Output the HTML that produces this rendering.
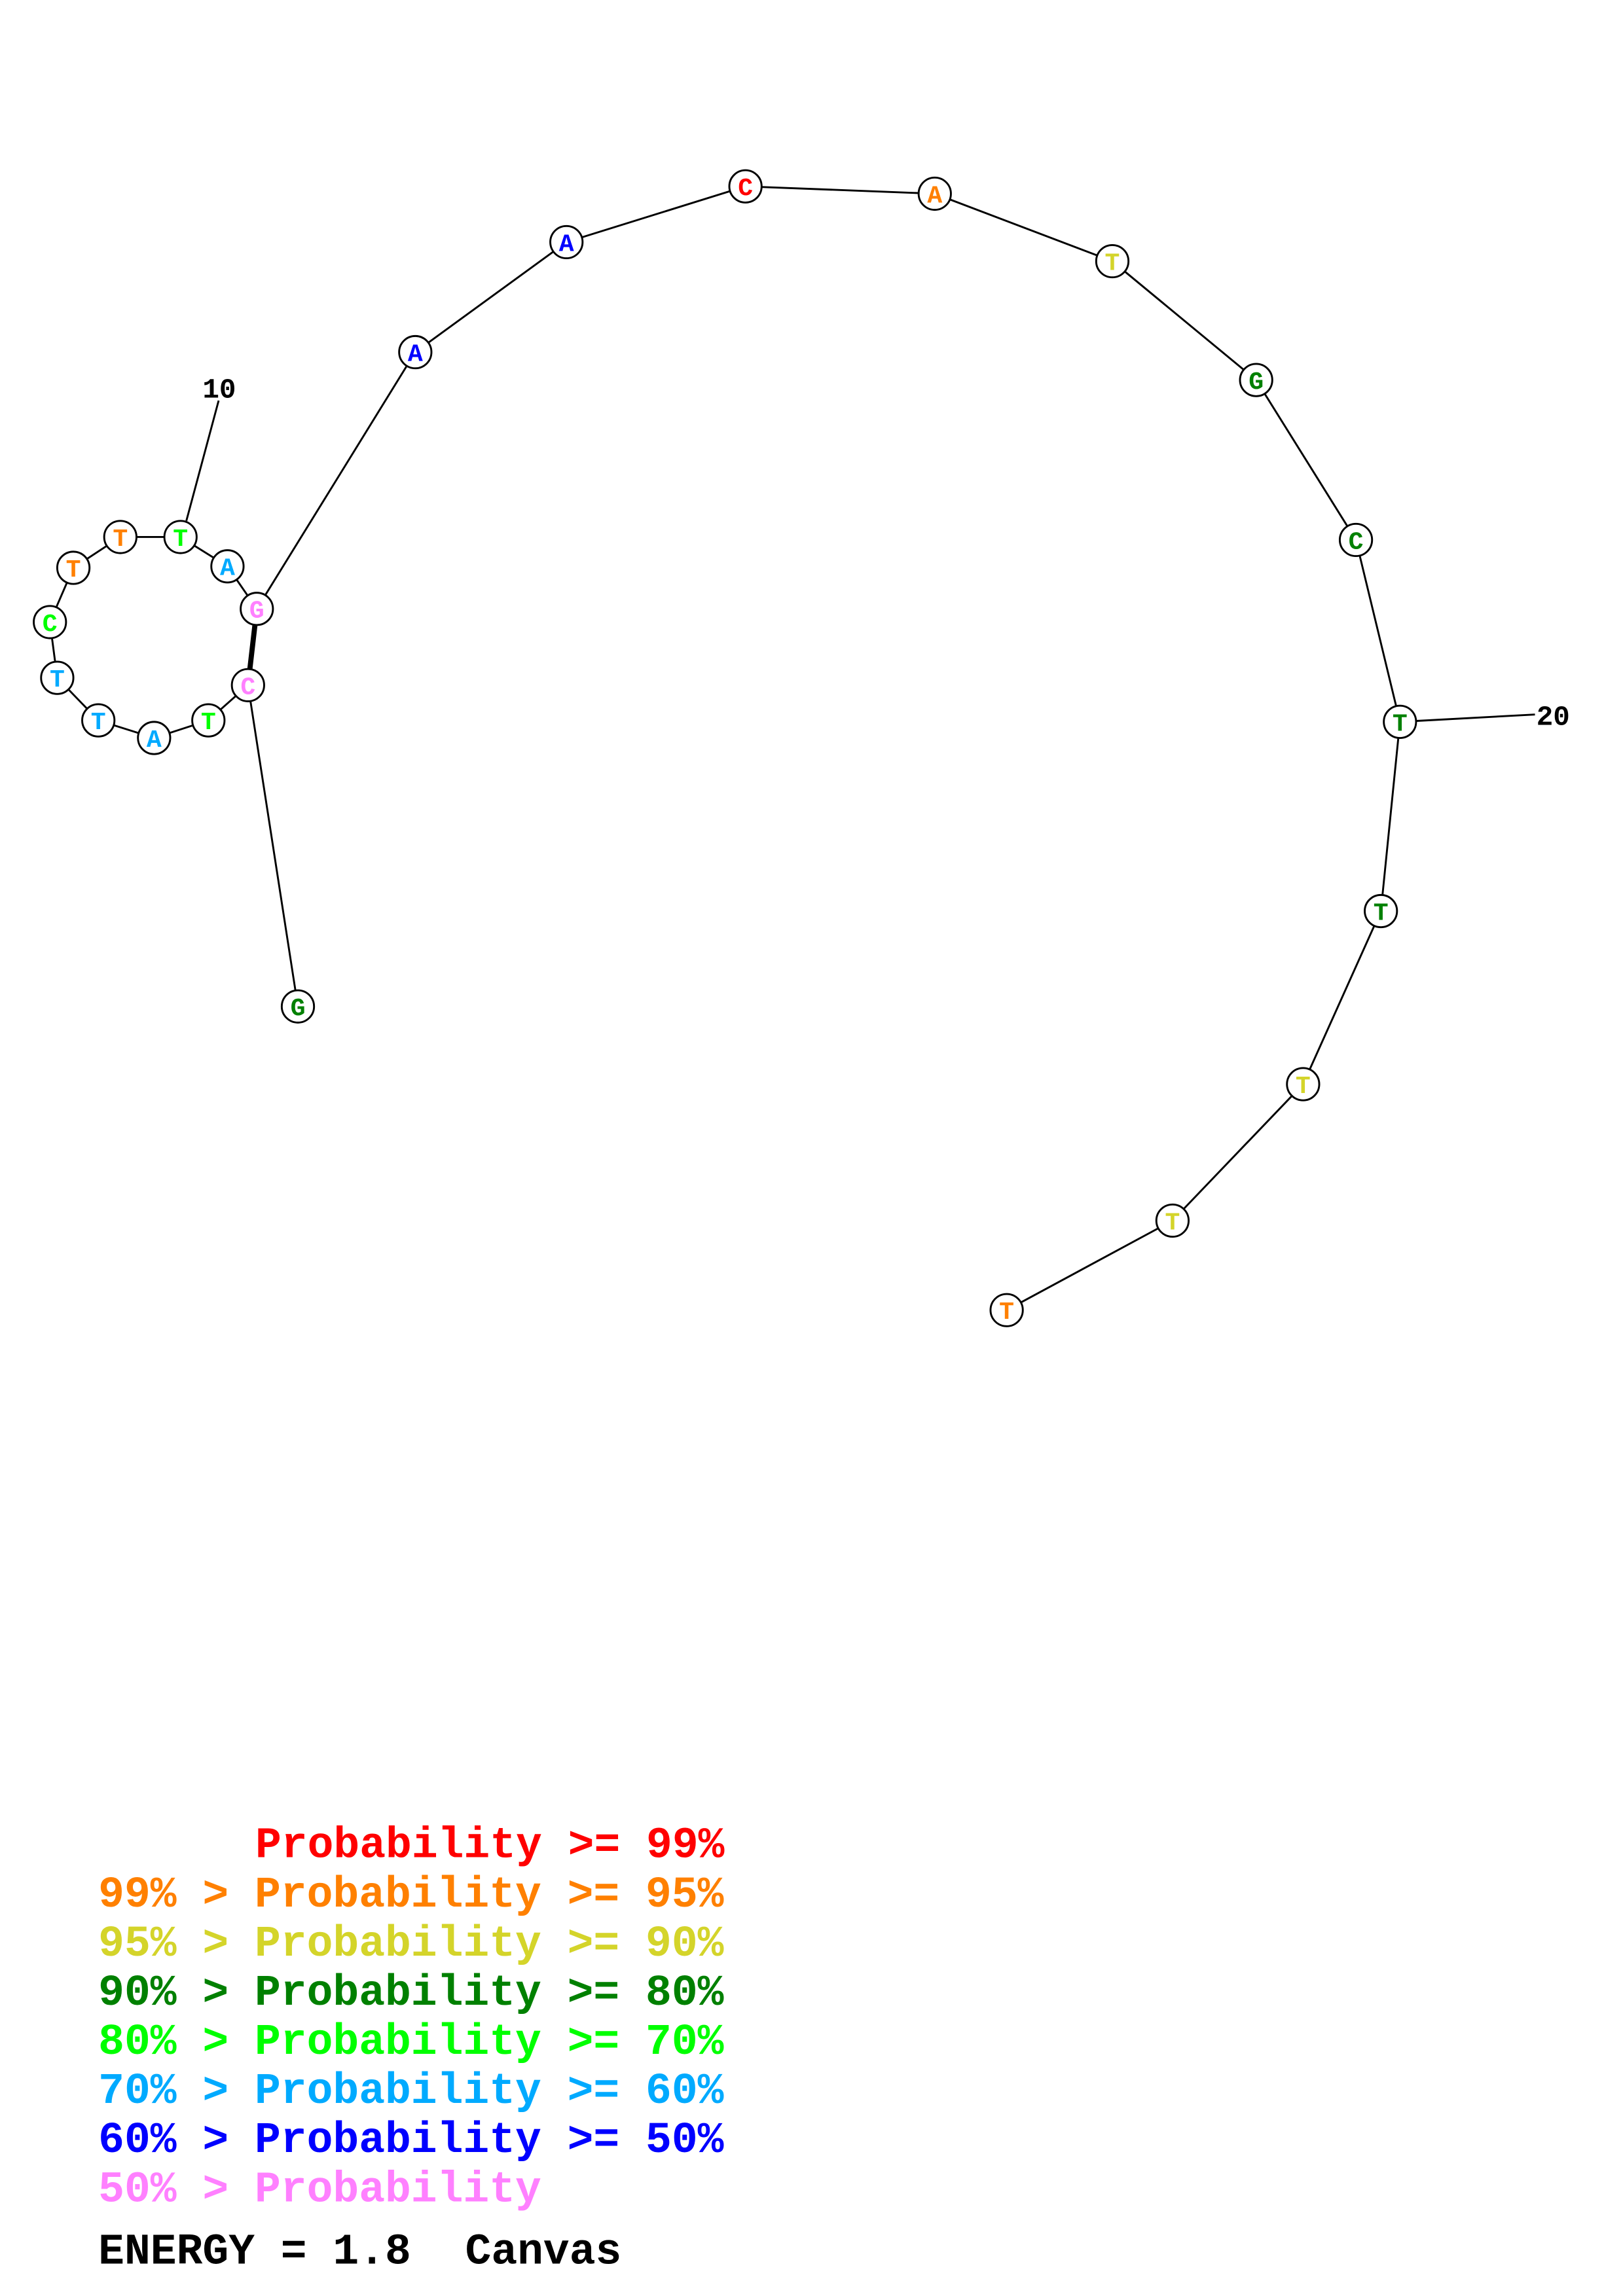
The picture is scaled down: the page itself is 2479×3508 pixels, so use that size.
<!DOCTYPE html>
<html><head><meta charset="utf-8"><style>html,body{margin:0;padding:0;background:#fff}svg{display:block}</style></head>
<body>
<svg width="2479" height="3508" viewBox="0 0 1106 1565" xmlns="http://www.w3.org/2000/svg">
<rect width="1106" height="1565" fill="#fff"/>
<g stroke="#000" stroke-width="1.3" fill="none">
<polyline points="203,686 169,467 142,491 105,503 67,491 39,462 34,424 50,387 82,366 123,366 155,386 175,415 283,240 386,165 508,127 637,132 758,178 856,259 924,368 954,492 941,621 888,739 799,832 686,893"/>
<line x1="175" y1="415" x2="169" y2="467" stroke-width="3.5"/>
<line x1="149" y1="273" x2="127" y2="355"/>
<line x1="954" y1="492" x2="1046" y2="487"/>
</g>
<g font-family="Liberation Mono, monospace" font-weight="bold" font-size="19" fill="#000">
<text x="138" y="271">10</text>
<text x="1047" y="494">20</text>
</g>
<g stroke="#000" stroke-width="1.3" fill="#fff">
<circle cx="203" cy="686" r="11"/><circle cx="169" cy="467" r="11"/><circle cx="142" cy="491" r="11"/><circle cx="105" cy="503" r="11"/><circle cx="67" cy="491" r="11"/><circle cx="39" cy="462" r="11"/><circle cx="34" cy="424" r="11"/><circle cx="50" cy="387" r="11"/><circle cx="82" cy="366" r="11"/><circle cx="123" cy="366" r="11"/><circle cx="155" cy="386" r="11"/><circle cx="175" cy="415" r="11"/><circle cx="283" cy="240" r="11"/><circle cx="386" cy="165" r="11"/><circle cx="508" cy="127" r="11"/><circle cx="637" cy="132" r="11"/><circle cx="758" cy="178" r="11"/><circle cx="856" cy="259" r="11"/><circle cx="924" cy="368" r="11"/><circle cx="954" cy="492" r="11"/><circle cx="941" cy="621" r="11"/><circle cx="888" cy="739" r="11"/><circle cx="799" cy="832" r="11"/><circle cx="686" cy="893" r="11"/>
</g>
<g font-family="Liberation Mono, monospace" font-weight="bold" font-size="17" text-anchor="middle">
<text x="203" y="692" fill="#008000">G</text>
<text x="169" y="473" fill="#ff80ff">C</text>
<text x="142" y="497" fill="#00ff00">T</text>
<text x="105" y="509" fill="#00aaff">A</text>
<text x="67" y="497" fill="#00aaff">T</text>
<text x="39" y="468" fill="#00aaff">T</text>
<text x="34" y="430" fill="#00ff00">C</text>
<text x="50" y="393" fill="#ff8000">T</text>
<text x="82" y="372" fill="#ff8000">T</text>
<text x="123" y="372" fill="#00ff00">T</text>
<text x="155" y="392" fill="#00aaff">A</text>
<text x="175" y="421" fill="#ff80ff">G</text>
<text x="283" y="246" fill="#0000ff">A</text>
<text x="386" y="171" fill="#0000ff">A</text>
<text x="508" y="133" fill="#ff0000">C</text>
<text x="637" y="138" fill="#ff8000">A</text>
<text x="758" y="184" fill="#d4d42a">T</text>
<text x="856" y="265" fill="#008000">G</text>
<text x="924" y="374" fill="#008000">C</text>
<text x="954" y="498" fill="#008000">T</text>
<text x="941" y="627" fill="#008000">T</text>
<text x="888" y="745" fill="#d4d42a">T</text>
<text x="799" y="838" fill="#d4d42a">T</text>
<text x="686" y="899" fill="#ff8000">T</text>
</g>
<g font-family="Liberation Mono, monospace" font-weight="bold" font-size="29.6">
<text x="174" y="1266" fill="#ff0000">Probability &gt;= 99%</text>
<text x="67" y="1299.5" fill="#ff8000">99% &gt; Probability &gt;= 95%</text>
<text x="67" y="1333" fill="#d4d42a">95% &gt; Probability &gt;= 90%</text>
<text x="67" y="1366.5" fill="#008000">90% &gt; Probability &gt;= 80%</text>
<text x="67" y="1400" fill="#00ff00">80% &gt; Probability &gt;= 70%</text>
<text x="67" y="1433.5" fill="#00aaff">70% &gt; Probability &gt;= 60%</text>
<text x="67" y="1467" fill="#0000ff">60% &gt; Probability &gt;= 50%</text>
<text x="67" y="1500.5" fill="#ff80ff">50% &gt; Probability</text>
<text x="67" y="1543" fill="#000">ENERGY = 1.8</text>
<text x="317" y="1543" fill="#000">Canvas</text>
</g>
</svg>
</body></html>
